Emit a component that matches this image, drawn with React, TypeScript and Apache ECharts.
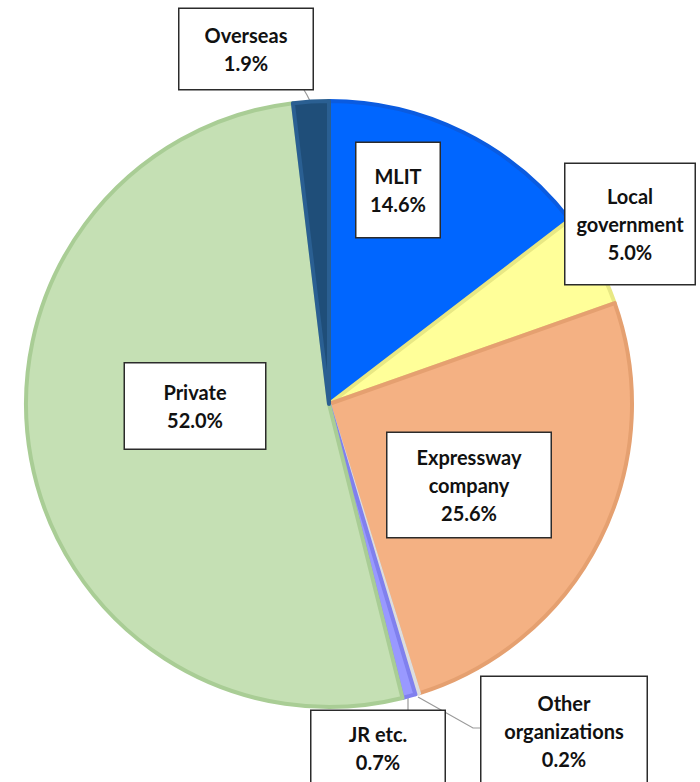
import React, { useEffect, useRef } from "react";
import * as echarts from "echarts";

const categories = ["MLIT", "Local government", "Expressway company", "Other organizations", "JR etc.", "Private", "Overseas"];
const labelNames = ["MLIT", "Local\ngovernment", "Expressway\ncompany", "Other\norganizations", "JR etc.", "Private", "Overseas"];
const shares = [14.6, 5.0, 25.6, 0.2, 0.7, 52.0, 1.9];
const fillColors = ["#0066FF", "#FFFF99", "#F4B183", "#F2F2F2", "#9999FF", "#C5E0B4", "#1F4E79"];
const edgeColors = ["#0A5BE0", "#E8E884", "#E5A070", "#DDDDDD", "#8080EE", "#A9CD95", "#2A5F92"];

// label box layout (centre x, centre y, width, height) and leader lines
const boxes: number[][] = [
  [398, 190, 85, 96],
  [630, 224, 131, 122],
  [469, 485, 165, 106],
  [564, 731, 167, 110],
  [378, 748, 135, 76],
  [195, 406, 142, 87],
  [246, 49, 135, 82],
];
const leaders: (number[][] | null)[] = [
  null,
  null,
  null,
  [[418, 697], [473, 728], [481, 728]],
  [[408, 698], [408, 704], [408, 710]],
  null,
  [[310, 101], [307, 95], [304, 90]],
];

export default function App() {
  const ref = useRef<HTMLDivElement>(null);
  useEffect(() => {
    if (!ref.current) return;
    const chart = echarts.init(ref.current, null, { renderer: "svg" });
    const data = categories.map((c, i) => ({
      name: c,
      value: shares[i],
      itemStyle: { color: fillColors[i], borderColor: edgeColors[i], borderWidth: 4 },
      label: { width: boxes[i][2] - 2, height: boxes[i][3] - 2 },
      labelLine: { show: !!leaders[i] },
    }));
    chart.setOption({
      animation: false,
      backgroundColor: "#ffffff",
      series: [
        {
          type: "pie",
          center: [329, 404],
          radius: [0, 303],
          startAngle: 90,
          clockwise: true,
          avoidLabelOverlap: false,
          data,
          label: {
            show: true,
            position: "outside",
            formatter: (p: any) => `${labelNames[p.dataIndex]}\n${Number(p.value).toFixed(1)}%`,
            fontFamily: "Lato, 'Open Sans', sans-serif",
            fontWeight: "bold",
            fontSize: 20,
            lineHeight: 28,
            color: "#111111",
            backgroundColor: "#ffffff",
            borderColor: "#2b2b2b",
            borderWidth: 1.5,
            padding: 0,
            align: "center",
            verticalAlign: "middle",
          },
          labelLine: {
            show: true,
            lineStyle: { color: "#9a9a9a", width: 1.2 },
          },
          labelLayout: (params: any) => {
            const i = params.dataIndex;
            const b = boxes[i];
            const res: any = { x: b[0], y: b[1], align: "center", verticalAlign: "middle" };
            if (leaders[i]) res.labelLinePoints = leaders[i];
            return res;
          },
        },
      ],
    });
    return () => chart.dispose();
  }, []);
  return <div ref={ref} style={{ position: "fixed", left: 0, top: 0, width: 700, height: 782 }} />;
}
